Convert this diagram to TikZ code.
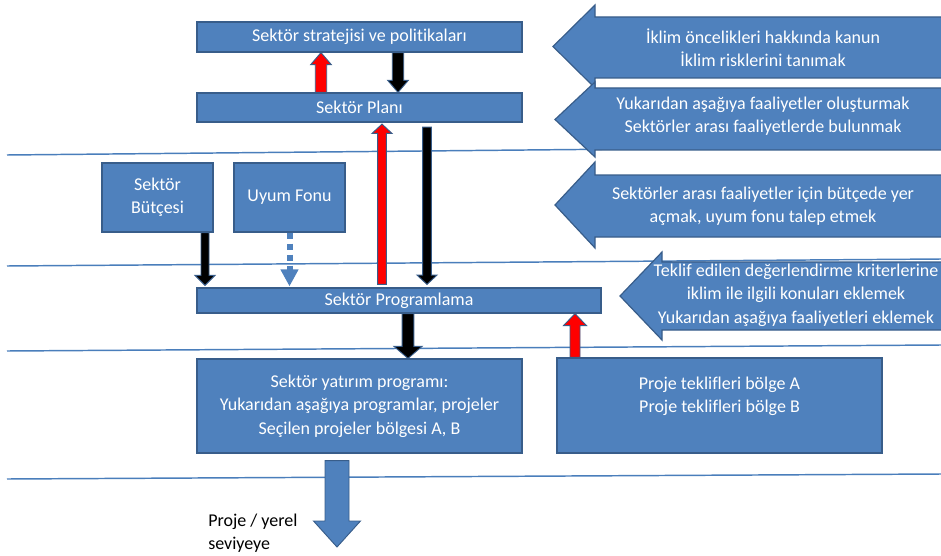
\documentclass[tikz,border=0pt]{standalone}
\usepackage{fontspec}
\setmainfont{Carlito}[Ligatures=NoCommon]
\usetikzlibrary{calc,arrows.meta}

\definecolor{boxblue}{HTML}{4F81BD}
\definecolor{edgeblue}{HTML}{385D8A}
\definecolor{ruleblue}{HTML}{4A7EBB}

\newcommand\dfont{\fontsize{13.5pt}{17.5pt}\selectfont}

% Block arrow from #2 to #3: shaft half width #4, head half width #5, head length #6
\newcommand\blockarrow[6][]{%
  \coordinate (ba-s) at #2;
  \coordinate (ba-e) at #3;
  \coordinate (ba-b) at ($(ba-e)!#6!(ba-s)$);
  \path[blockarrowbase,#1]
    ($(ba-s)!#4!90:(ba-e)$) -- ($(ba-b)!#4!-90:(ba-s)$) -- ($(ba-b)!#5!-90:(ba-s)$)
    -- (ba-e) -- ($(ba-b)!#5!90:(ba-s)$) -- ($(ba-b)!#4!90:(ba-s)$)
    -- ($(ba-s)!#4!-90:(ba-e)$) -- cycle;
}

\tikzset{
  box/.style={draw=edgeblue, line width=0.9pt, fill=boxblue, text=white,
    font=\dfont, align=center, inner sep=0pt},
  blockarrowbase/.style={draw=edgeblue, line width=0.7pt},
  upred/.style={fill=red},
  downblack/.style={fill=black},
  bigarrow/.style={draw=edgeblue, line width=0.9pt, fill=boxblue},
  atext/.style={text=white, font=\dfont, align=center, inner sep=0pt},
  rulerline/.style={draw=ruleblue, line width=1.1pt},
  dotarrow/.style={draw=boxblue, line width=4.5pt, dash pattern=on 4.5pt off 3.75pt,
    -{Triangle[length=12.75pt,width=12.75pt]}},
}

\begin{document}
\begin{tikzpicture}[x=0.75pt, y=-0.75pt]
\useasboundingbox (0,0) rectangle (941,556);

% level separators
\draw[rulerline] (7,155) -- (941,146);
\draw[rulerline] (7,266) -- (941,259);
\draw[rulerline] (7,351) -- (941,345);
\draw[rulerline] (7,479) -- (941,474);

% boxes
\node[box, minimum width=243.75pt, minimum height=22.5pt] (strat) at (359.5,37) {Sektör stratejisi ve politikaları};
\node[box, minimum width=243.75pt, minimum height=21.75pt] (plan) at (359.5,107.5) {Sektör Planı};
\node[box, minimum width=83.25pt, minimum height=51.75pt] (butce) at (157.5,197.5) {Sektör\\Bütçesi};
\node[box, minimum width=83.25pt, minimum height=51.75pt] (fon) at (289.5,197.5) {Uyum Fonu};
\node[box, minimum width=303pt, minimum height=18.75pt] (prog) at (399,300.5) {Sektör Programlama};
\node[box, minimum width=243.75pt, minimum height=70.5pt] (yatirim) at (359.5,406)
  {Sektör yatırım programı:\\Yukarıdan aşağıya programlar, projeler\\Seçilen projeler bölgesi A, B};
\node[box, minimum width=243.75pt, minimum height=71.25pt] (teklif) at (719.5,405.5) {};
\node[atext] (teklifText) at ([yshift=7.1pt]teklif.center) {Proje teklifleri bölge A\\Proje teklifleri bölge B};

% connector positions
\coordinate (xA) at ([xshift=-28.875pt]strat.south);
\coordinate (xB) at ([xshift=28.875pt]strat.south);
\coordinate (xC) at ([xshift=16.875pt]plan.south);
\coordinate (xD) at ([xshift=50.625pt]plan.south);
\coordinate (xE) at ([xshift=35.625pt]butce.south);
\coordinate (xG) at ([xshift=6.75pt]prog.south);
\coordinate (xH) at ([xshift=-108.375pt]teklif.north);
\coordinate (xI) at ([xshift=-16.875pt,yshift=-5.25pt]yatirim.south);
\coordinate (local) at (337,547);

% connectors
\blockarrow[upred]{(plan.north -| xA)}{(xA)}{4.3pt}{7.7pt}{9pt}
\blockarrow[downblack]{(xB)}{(plan.north -| xB)}{4.3pt}{7.7pt}{9pt}
\blockarrow[upred]{($(prog.north -| xC)+(0,-3)$)}{($(xC)+(0,1.5)$)}{3.3pt}{7.5pt}{7pt}
\blockarrow[downblack]{($(xD)+(0,4.5)$)}{($(prog.north -| xD)+(0,-3)$)}{3.3pt}{7.5pt}{7pt}
\blockarrow[downblack]{(xE)}{($(prog.north -| xE)+(0,-2)$)}{3pt}{7.5pt}{7.5pt}
\draw[dotarrow] (fon.south) -- ($(prog.north -| fon.south)+(0,-1)$);
\blockarrow[downblack]{(xG)}{(yatirim.north -| xG)}{4.4pt}{10.5pt}{9pt}
\blockarrow[upred]{(xH)}{(prog.south -| xH)}{3.75pt}{8.6pt}{9pt}
\blockarrow[fill=boxblue]{(xI)}{(local)}{9pt}{17.6pt}{19.5pt}

\node[font=\dfont, align=left, anchor=west, inner sep=0pt] (lbl) at (208,533) {Proje / yerel\\seviyeye};

% actions at each level
\path[bigarrow] (950,17) -- (595,17) -- (595,5) -- (553,46.5) -- (595,88) -- (595,78) -- (950,78) -- cycle;
\node[atext] (act1) at (763,48) {İklim öncelikleri hakkında kanun\\İklim risklerini tanımak};
\path[bigarrow] (950,88) -- (595,88) -- (595,82) -- (555,119.5) -- (595,157) -- (595,150) -- (950,150) -- cycle;
\node[atext] (act2) at (763,116) {Yukarıdan aşağıya faaliyetler oluşturmak\\Sektörler arası faaliyetlerde bulunmak};
\path[bigarrow] (950,175) -- (595,175) -- (595,162) -- (555,205) -- (595,248) -- (595,237) -- (950,237) -- cycle;
\node[atext] (act3) at (763,206) {Sektörler arası faaliyetler için bütçede yer\\açmak, uyum fonu talep etmek};
\path[bigarrow] (950,262) -- (662,262) -- (662,252) -- (620,296) -- (662,340) -- (662,330) -- (950,330) -- cycle;
\node[atext] (act4) at (796,295) {Teklif edilen değerlendirme kriterlerine\\iklim ile ilgili konuları eklemek\\Yukarıdan aşağıya faaliyetleri eklemek};
\end{tikzpicture}
\end{document}
